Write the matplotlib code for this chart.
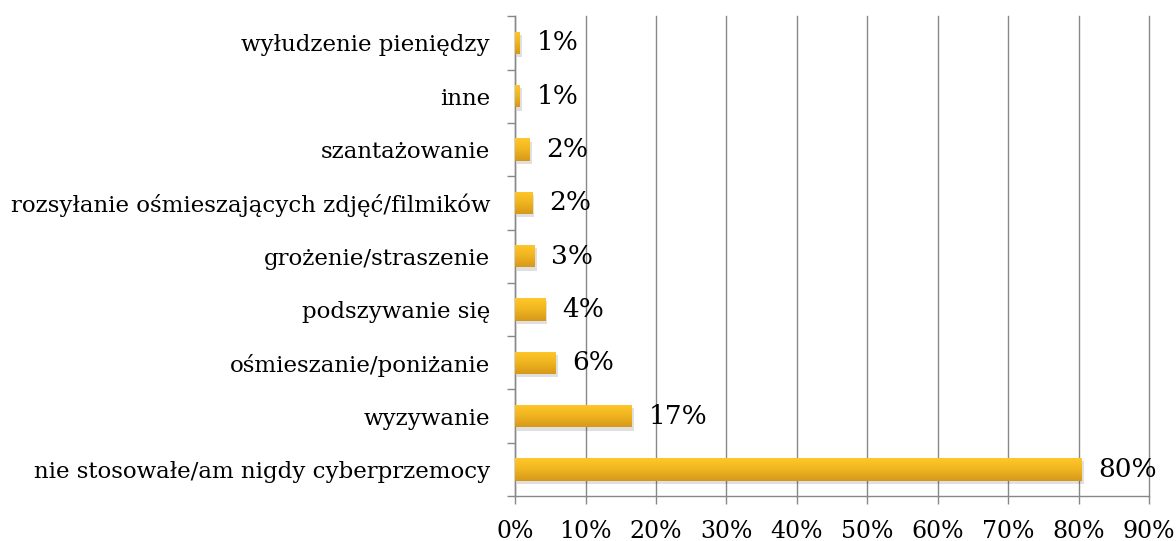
import matplotlib
matplotlib.use("Agg")
import matplotlib.pyplot as plt
import numpy as np
from matplotlib.colors import LinearSegmentedColormap
from matplotlib.ticker import FixedLocator, PercentFormatter

categories = [
    "nie stosowałe/am nigdy cyberprzemocy",
    "wyzywanie",
    "ośmieszanie/poniżanie",
    "podszywanie się",
    "grożenie/straszenie",
    "rozsyłanie ośmieszających zdjęć/filmików",
    "szantażowanie",
    "inne",
    "wyłudzenie pieniędzy",
]
values = [80.5, 16.6, 5.8, 4.3, 2.8, 2.5, 2.1, 0.7, 0.7]
value_labels = ["80%", "17%", "6%", "4%", "3%", "2%", "2%", "1%", "1%"]
x_ticks = [0, 10, 20, 30, 40, 50, 60, 70, 80, 90]

plt.rcParams['font.family'] = ['DejaVu Serif']

fig = plt.figure(figsize=(11.76, 5.41), dpi=100)
ax = fig.add_axes([0.438, 0.083, 0.539, 0.887])

y = np.arange(len(categories))
bars = ax.barh(y, values, height=0.42, color="none", edgecolor="none", zorder=3)

cmap = LinearSegmentedColormap.from_list("gold", ["#D6981A", "#F0B420", "#FFC82A"])
grad = np.linspace(0, 1, 64).reshape(-1, 1)
for b in bars:
    x0, y0 = b.get_x(), b.get_y()
    w, h = b.get_width(), b.get_height()
    ax.add_patch(plt.Rectangle((x0 + 0.25, y0 - 0.06), w, h, facecolor="#000000",
                               alpha=0.12, edgecolor="none", zorder=2))
    im = ax.imshow(grad, cmap=cmap, aspect="auto", origin="lower",
                   extent=[x0, x0 + w, y0, y0 + h], zorder=3)
    im.set_clip_path(b)

for yi, v, lab in zip(y, values, value_labels):
    ax.annotate(lab, (v, yi), xytext=(12, 0), textcoords="offset points",
                va="center", ha="left", fontsize=19, color="#000000", zorder=4)

ax.set_xlim(0, 90)
ax.set_ylim(-0.5, len(categories) - 0.5)
ax.set_xticks(x_ticks)
ax.xaxis.set_major_formatter(PercentFormatter(decimals=0))
ax.set_yticks(y)
ax.set_yticklabels(categories)
ax.yaxis.set_minor_locator(FixedLocator(np.arange(-0.5, len(categories), 1.0)))
ax.tick_params(axis="y", which="major", length=0, pad=18, labelsize=16.5)
ax.tick_params(axis="y", which="minor", length=6, color="#888888", width=1)
ax.tick_params(axis="x", which="major", length=6, color="#888888", width=1, labelsize=17, pad=11)

ax.grid(axis="x", color="#888888", linewidth=1, zorder=0)
for gl in ax.get_xgridlines():
    gl.set_clip_on(False)
ax.set_axisbelow(True)
for s in ["top", "right"]:
    ax.spines[s].set_visible(False)
for s in ["left", "bottom"]:
    ax.spines[s].set_color("#888888")
    ax.spines[s].set_linewidth(1)

fig.savefig("out.png", dpi=100)
